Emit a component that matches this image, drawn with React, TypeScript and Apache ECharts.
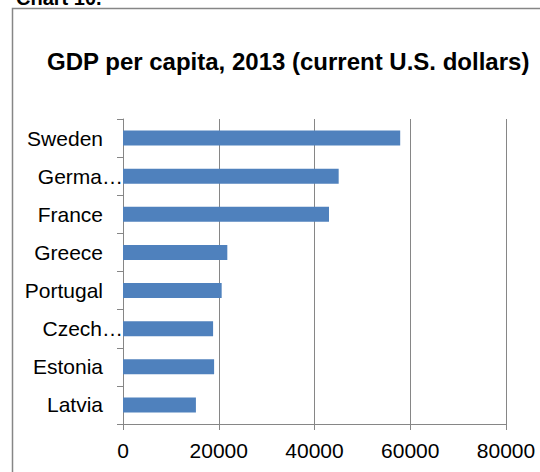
import React, { useEffect, useRef } from "react";
import * as echarts from "echarts";

const categories = ["Sweden", "Germany", "France", "Greece", "Portugal", "Czech Republic", "Estonia", "Latvia"];
const categoryLabels = ["Sweden", "Germa…", "France", "Greece", "Portugal", "Czech…", "Estonia", "Latvia"];
const gdpValues = [57900, 45050, 43030, 21790, 20610, 18820, 19030, 15230];
const xMin = 0;
const xMax = 80000;
const xInterval = 20000;
const chartTitle = "GDP per capita, 2013 (current U.S. dollars)";
const chartCaption = "Chart 10.";

const FONT = '"Liberation Sans", Arial, sans-serif';
const GRAY = "#868686";

export default function App() {
  const ref = useRef<HTMLDivElement>(null);
  useEffect(() => {
    if (!ref.current) return;
    const chart = echarts.init(ref.current, undefined, { renderer: "svg" });
    chart.setOption({
      animation: false,
      backgroundColor: "#ffffff",
      title: {
        text: chartTitle,
        left: 42,
        top: 44,
        textStyle: { fontSize: 24, fontWeight: "bold", fontFamily: FONT, color: "#000" },
      },
      graphic: [
        {
          type: "rect",
          silent: true,
          shape: { x: 12.5, y: 8.5, width: 540, height: 480 },
          style: { fill: "none", stroke: GRAY, lineWidth: 1.5 },
        },
        {
          type: "text",
          silent: true,
          x: 16,
          y: -2,
          style: {
            text: chartCaption,
            font: 'bold 20px "Liberation Sans", Arial, sans-serif',
            fill: "#000",
            verticalAlign: "middle",
          },
        },
      ],
      grid: { left: 123, right: 34, top: 119, bottom: 48, containLabel: false },
      xAxis: {
        type: "value",
        min: xMin,
        max: xMax,
        interval: xInterval,
        axisLine: { show: true, lineStyle: { color: GRAY, width: 1 } },
        axisTick: { show: true, length: 6, lineStyle: { color: GRAY } },
        splitLine: { show: true, lineStyle: { color: GRAY, width: 1 } },
        axisLabel: {
          fontSize: 21,
          fontFamily: FONT,
          color: "#000",
          margin: 16,
          formatter: (v: number) => String(v),
        },
      },
      yAxis: {
        type: "category",
        data: categories,
        inverse: true,
        axisLine: { show: true, lineStyle: { color: GRAY, width: 1 } },
        axisTick: { show: true, length: 6, lineStyle: { color: GRAY } },
        splitLine: { show: false },
        axisLabel: {
          margin: 0,
          fontSize: 21,
          fontFamily: FONT,
          color: "#000",
          formatter: (value: string, index: number) => {
            const lbl = categoryLabels[index];
            return lbl !== categories[index] ? `{t|${lbl}}` : `{n|${lbl}}`;
          },
          rich: {
            n: { fontSize: 21, fontFamily: FONT, color: "#000", padding: [0, 20, 0, 0] },
            t: { fontSize: 21, fontFamily: FONT, color: "#000", padding: [0, 0, 0, 0] },
          },
        },
      },
      series: [
        {
          type: "bar",
          data: gdpValues,
          barWidth: 15,
          itemStyle: { color: "#4F81BD" },
        },
      ],
    });
    return () => chart.dispose();
  }, []);
  return (
    <div
      ref={ref}
      style={{ position: "fixed", left: 0, top: 0, width: 540, height: 472, background: "#fff" }}
    />
  );
}
